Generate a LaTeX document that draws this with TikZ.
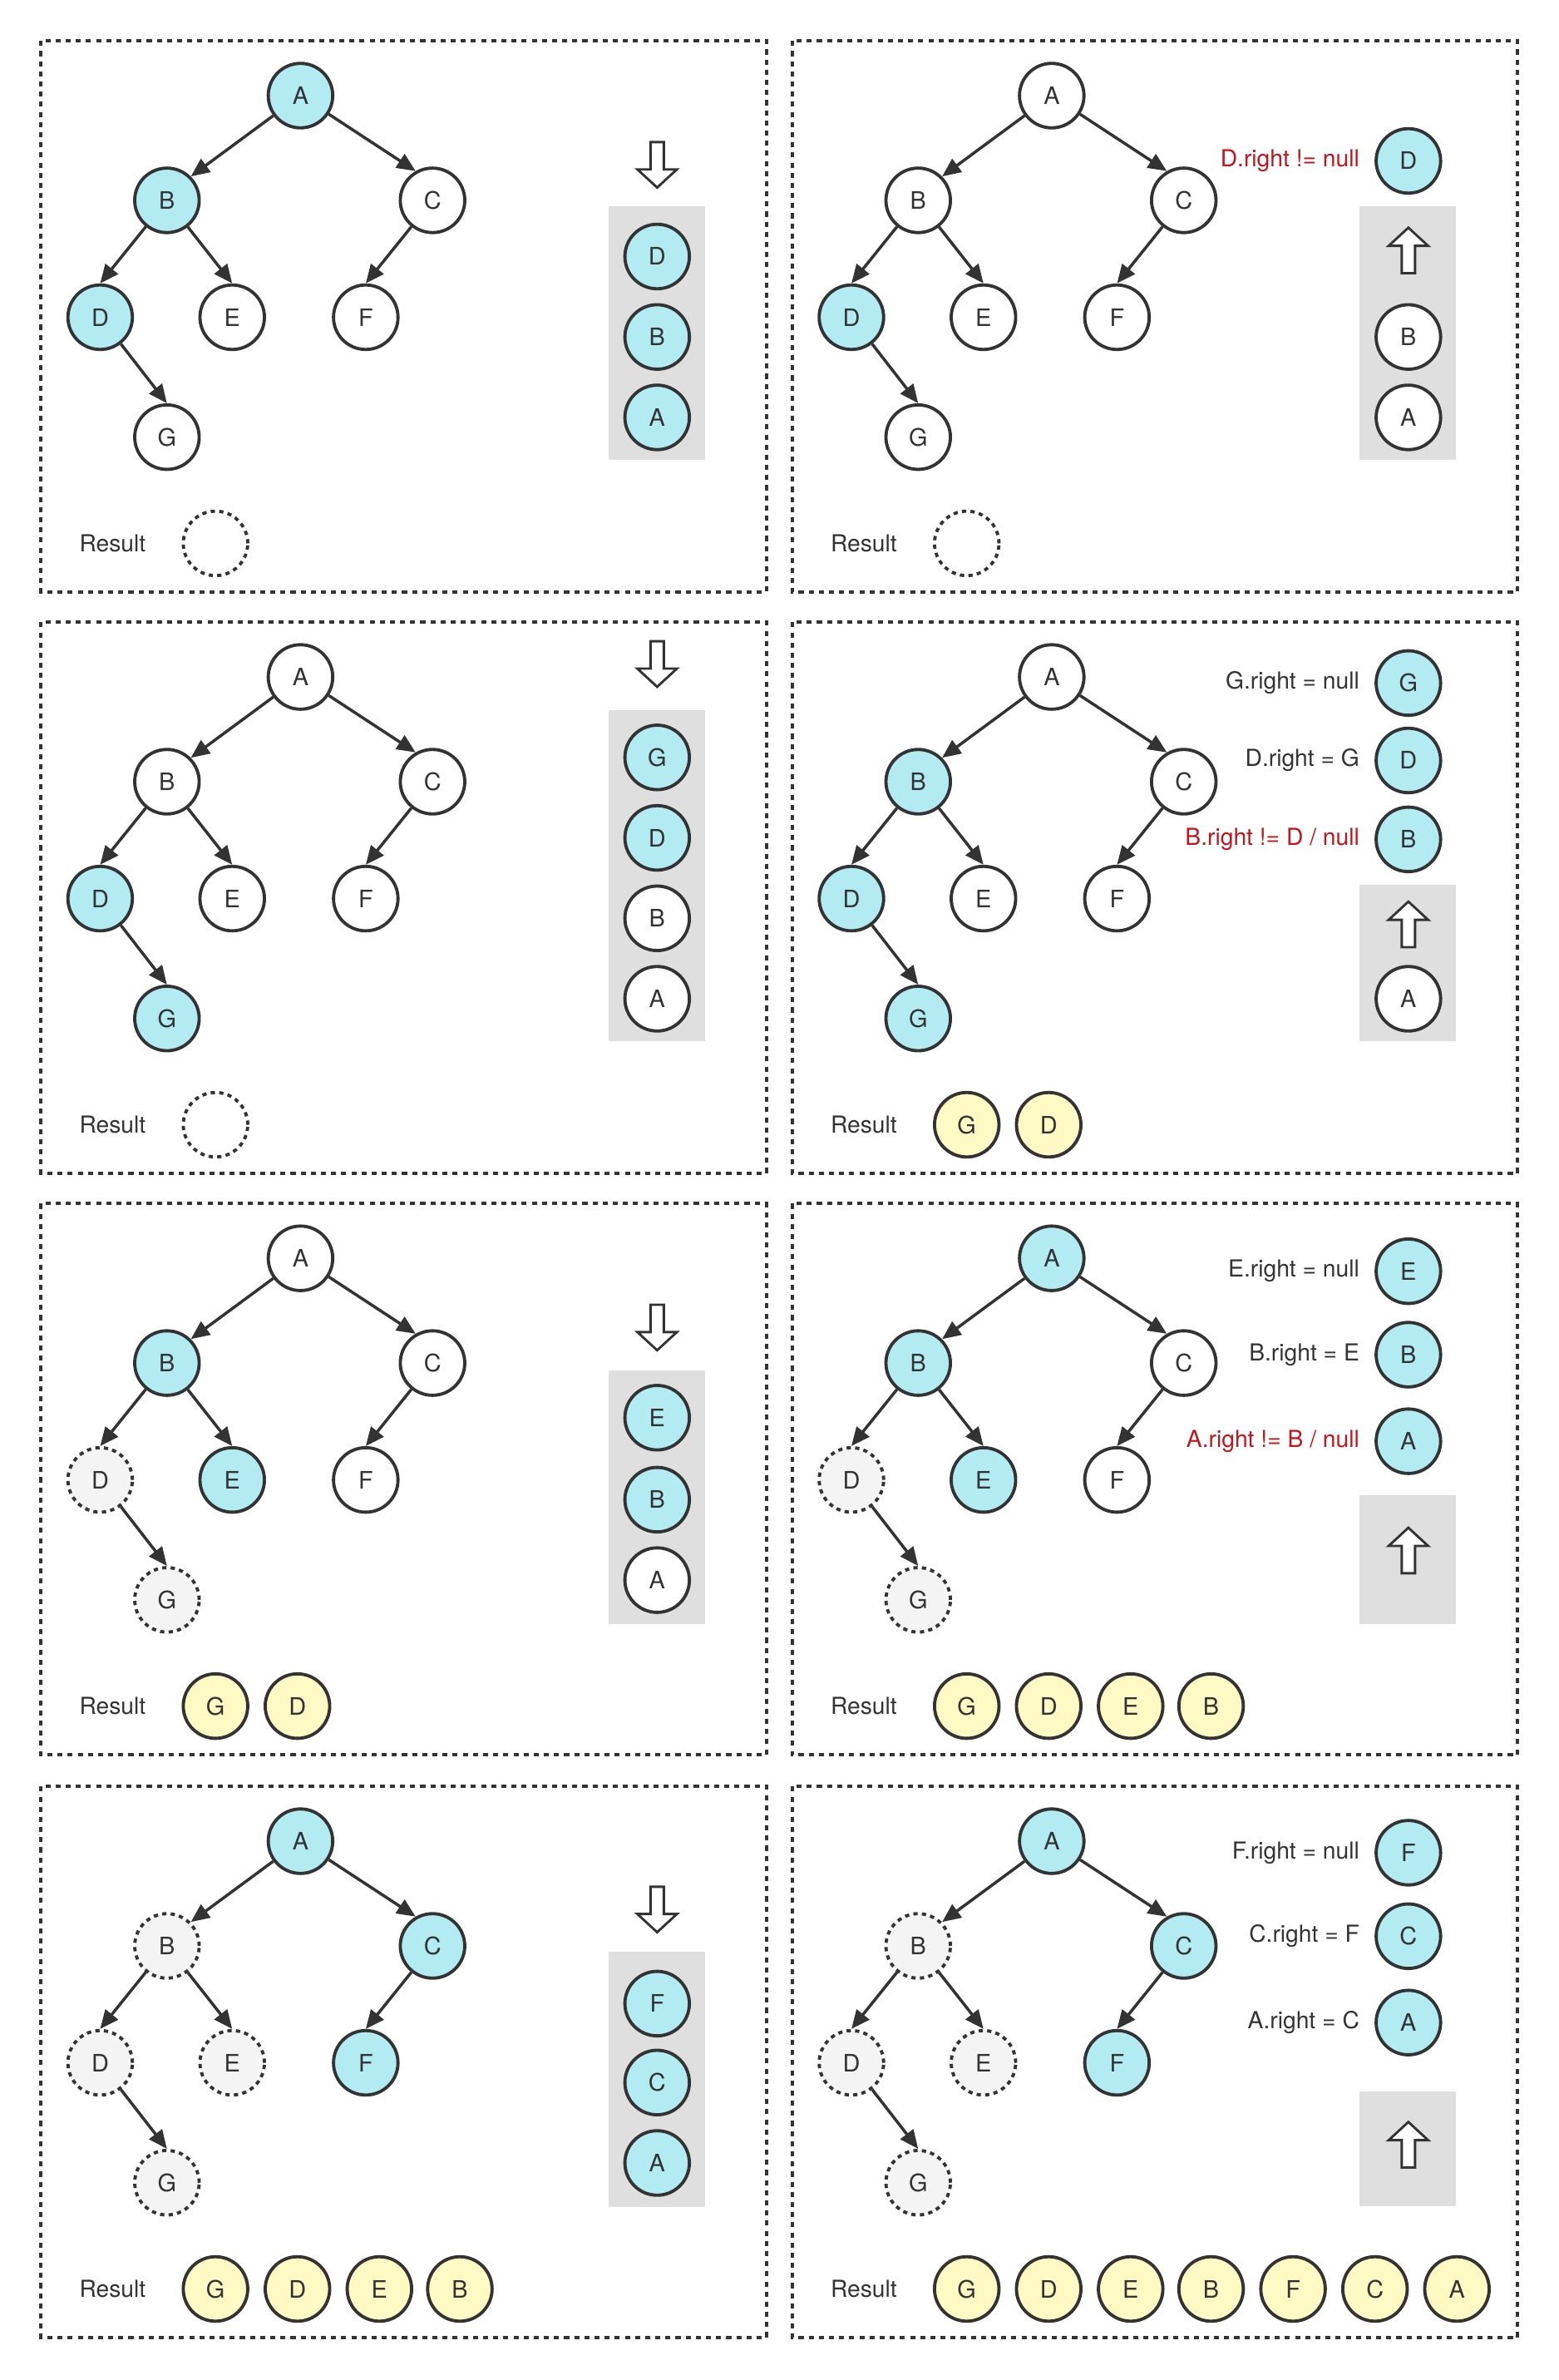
\documentclass[tikz,border=0pt]{standalone}
\usepackage{fontspec}
\setmainfont{TeX Gyre Heros}
\usetikzlibrary{arrows.meta, positioning}

\definecolor{ink}{HTML}{333333}
\definecolor{cyanfill}{HTML}{B2EBF2}
\definecolor{donefill}{HTML}{FFF9C4}
\definecolor{seenfill}{HTML}{F4F4F4}
\definecolor{stackbg}{HTML}{DFDFDF}
\definecolor{alert}{HTML}{C0161C}

\tikzset{
  every node/.style={font=\fontsize{9}{11}\selectfont, text=ink},
  tnode/.style={
    circle, draw=ink, line width=1.2pt, fill=white,
    minimum size=0.85cm, inner sep=0pt
  },
  cur/.style={tnode, fill=cyanfill},
  done/.style={tnode, fill=donefill},
  seen/.style={tnode, fill=seenfill, dash pattern=on 1.6pt off 1.6pt},
  slot/.style={tnode, fill=none, dash pattern=on 1.6pt off 1.6pt},
  link/.style={-{Triangle[length=7pt,width=6pt]}, line width=1.1pt, draw=ink},
  frame/.style={draw=ink, line width=1.25pt, dash pattern=on 1.9pt off 1.9pt},
  stackbox/.style={fill=stackbg},
  hollow/.style={draw=ink, line width=0.9pt, fill=white, line join=miter},
  note/.style={inner sep=0pt, font=\fontsize{8.8}{10}\selectfont},
  warn/.style={note, text=alert},
}

% tree of one panel: prefix, then the styles of A..G
\newcommand{\bintree}[8]{%
  \node[#2] (#1A) at (171,36)  {A};
  \node[#3] (#1B) at (83,105)  {B};
  \node[#4] (#1C) at (258,105) {C};
  \node[#5] (#1D) at (39,182)  {D};
  \node[#6] (#1E) at (126,182) {E};
  \node[#7] (#1F) at (214,182) {F};
  \node[#8] (#1G) at (83,261)  {G};
  \draw[link] (#1A) -- (#1B.45);
  \draw[link] (#1A) -- (#1C.120);
  \draw[link] (#1B) -- (#1D.north);
  \draw[link] (#1B) -- (#1E.north);
  \draw[link] (#1C) -- (#1F.north);
  \draw[link] (#1D) -- (#1G.north);
}
% hollow push / pop arrows
\newcommand{\pushmark}[1]{%
  \draw[hollow, shift={(#1)}] (-4.4,-15) -- (4.4,-15) -- (4.4,3) -- (13,3)
    -- (0,15) -- (-13,3) -- (-4.4,3) -- cycle;}
\newcommand{\popmark}[1]{%
  \draw[hollow, shift={(#1)}] (-4.4,15) -- (4.4,15) -- (4.4,-3) -- (13,-3)
    -- (0,-15) -- (-13,-3) -- (-4.4,-3) -- cycle;}

\begin{document}
\begin{tikzpicture}[x=0.02cm, y=-0.02cm]
    \useasboundingbox (0,0) rectangle (1027,1568);

    % Panel 1: push A, B, D
    \begin{scope}[shift={(27,27)}]
      \draw[frame] (0,0) rectangle (478,363);
      \bintree{p1}{cur}{cur}{tnode}{cur}{tnode}{tnode}{tnode}
      \pushmark{406,81.6}
      \fill[stackbox] (374,109) rectangle (437.5,276);
      \node[cur] (p1s1) at (406,142) {D};
      \node[cur] (p1s2) at (406,195) {B};
      \node[cur] (p1s3) at (406,248) {A};
      \node[note, anchor=west] (p1res) at (25,331) {Result};
      \node[slot] (p1r) at (115,331) {};
    \end{scope}

    % Panel 2: pop D
    \begin{scope}[shift={(522,27)}]
      \draw[frame] (0,0) rectangle (478,363);
      \bintree{p2}{tnode}{tnode}{tnode}{cur}{tnode}{tnode}{tnode}
      \node[cur] (p2d) at (406,79) {D};
      \node[warn, left=5.5pt of p2d] (p2dl) {D.right != null};
      \fill[stackbox] (374,109) rectangle (437.5,276);
      \popmark{406,138}
      \node[tnode] (p2s1) at (406,195) {B};
      \node[tnode] (p2s2) at (406,248) {A};
      \node[note, anchor=west] (p2res) at (25,331) {Result};
      \node[slot] (p2r) at (115,331) {};
    \end{scope}

    % Panel 3: push D, G
    \begin{scope}[shift={(27,410)}]
      \draw[frame] (0,0) rectangle (478,363);
      \bintree{p3}{tnode}{tnode}{tnode}{cur}{tnode}{tnode}{cur}
      \pushmark{406,27.5}
      \fill[stackbox] (374,58) rectangle (437.5,276);
      \node[cur] (p3s1) at (406,89) {G};
      \node[cur] (p3s2) at (406,142) {D};
      \node[tnode] (p3s3) at (406,195) {B};
      \node[tnode] (p3s4) at (406,248) {A};
      \node[note, anchor=west] (p3res) at (25,331) {Result};
      \node[slot] (p3r) at (115,331) {};
    \end{scope}

    % Panel 4: pop G, D, B
    \begin{scope}[shift={(522,410)}]
      \draw[frame] (0,0) rectangle (478,363);
      \bintree{p4}{tnode}{cur}{tnode}{cur}{tnode}{tnode}{cur}
      \node[cur] (p4g) at (406,40) {G};
      \node[note, left=5.5pt of p4g] (p4gl) {G.right = null};
      \node[cur] (p4d) at (406,91) {D};
      \node[note, left=5.5pt of p4d] (p4dl) {D.right = G};
      \node[cur] (p4b) at (406,143) {B};
      \node[warn, left=5.5pt of p4b] (p4bl) {B.right != D / null};
      \fill[stackbox] (374,173) rectangle (437.5,276);
      \popmark{406,199}
      \node[tnode] (p4s1) at (406,248) {A};
      \node[note, anchor=west] (p4res) at (25,331) {Result};
      \node[done] (p4r1) at (115,331) {G};
      \node[done] (p4r2) at (169,331) {D};
    \end{scope}

    % Panel 5: push B, E
    \begin{scope}[shift={(27,793)}]
      \draw[frame] (0,0) rectangle (478,363);
      \bintree{p5}{tnode}{cur}{tnode}{seen}{cur}{tnode}{seen}
      \pushmark{406,81.6}
      \fill[stackbox] (374,110) rectangle (437.5,277);
      \node[cur] (p5s1) at (406,141) {E};
      \node[cur] (p5s2) at (406,195) {B};
      \node[tnode] (p5s3) at (406,248) {A};
      \node[note, anchor=west] (p5res) at (25,331) {Result};
      \node[done] (p5r1) at (115,331) {G};
      \node[done] (p5r2) at (169,331) {D};
    \end{scope}

    % Panel 6: pop E, B, A
    \begin{scope}[shift={(522,793)}]
      \draw[frame] (0,0) rectangle (478,363);
      \bintree{p6}{cur}{cur}{tnode}{seen}{cur}{tnode}{seen}
      \node[cur] (p6e) at (406,44.5) {E};
      \node[note, left=5.5pt of p6e] (p6el) {E.right = null};
      \node[cur] (p6b) at (406,99.5) {B};
      \node[note, left=5.5pt of p6b] (p6bl) {B.right = E};
      \node[cur] (p6a) at (406,156.5) {A};
      \node[warn, left=5.5pt of p6a] (p6al) {A.right != B / null};
      \fill[stackbox] (374,192) rectangle (437.5,277);
      \popmark{406,228.5}
      \node[note, anchor=west] (p6res) at (25,331) {Result};
      \node[done] (p6r1) at (115,331) {G};
      \node[done] (p6r2) at (169,331) {D};
      \node[done] (p6r3) at (223,331) {E};
      \node[done] (p6r4) at (276,331) {B};
    \end{scope}

    % Panel 7: push A, C, F
    \begin{scope}[shift={(27,1177)}]
      \draw[frame] (0,0) rectangle (478,363);
      \bintree{p7}{cur}{seen}{cur}{seen}{seen}{cur}{seen}
      \pushmark{406,81}
      \fill[stackbox] (374,109) rectangle (437.5,277);
      \node[cur] (p7s1) at (406,143) {F};
      \node[cur] (p7s2) at (406,195) {C};
      \node[cur] (p7s3) at (406,248) {A};
      \node[note, anchor=west] (p7res) at (25,331) {Result};
      \node[done] (p7r1) at (115,331) {G};
      \node[done] (p7r2) at (169,331) {D};
      \node[done] (p7r3) at (223,331) {E};
      \node[done] (p7r4) at (276,331) {B};
    \end{scope}

    % Panel 8: pop F, C, A
    \begin{scope}[shift={(522,1177)}]
      \draw[frame] (0,0) rectangle (478,363);
      \bintree{p8}{cur}{seen}{cur}{seen}{seen}{cur}{seen}
      \node[cur] (p8f) at (406,43.6) {F};
      \node[note, left=5.5pt of p8f] (p8fl) {F.right = null};
      \node[cur] (p8c) at (406,98.6) {C};
      \node[note, left=5.5pt of p8c] (p8cl) {C.right = F};
      \node[cur] (p8a) at (406,155.5) {A};
      \node[note, left=5.5pt of p8a] (p8al) {A.right = C};
      \fill[stackbox] (374,200.7) rectangle (437.5,276.4);
      \popmark{406,236}
      \node[note, anchor=west] (p8res) at (25,331) {Result};
      \node[done] (p8r1) at (115,331) {G};
      \node[done] (p8r2) at (169,331) {D};
      \node[done] (p8r3) at (223,331) {E};
      \node[done] (p8r4) at (276,331) {B};
      \node[done] (p8r5) at (330,331) {F};
      \node[done] (p8r6) at (384,331) {C};
      \node[done] (p8r7) at (438,331) {A};
    \end{scope}

\end{tikzpicture}
\end{document}
